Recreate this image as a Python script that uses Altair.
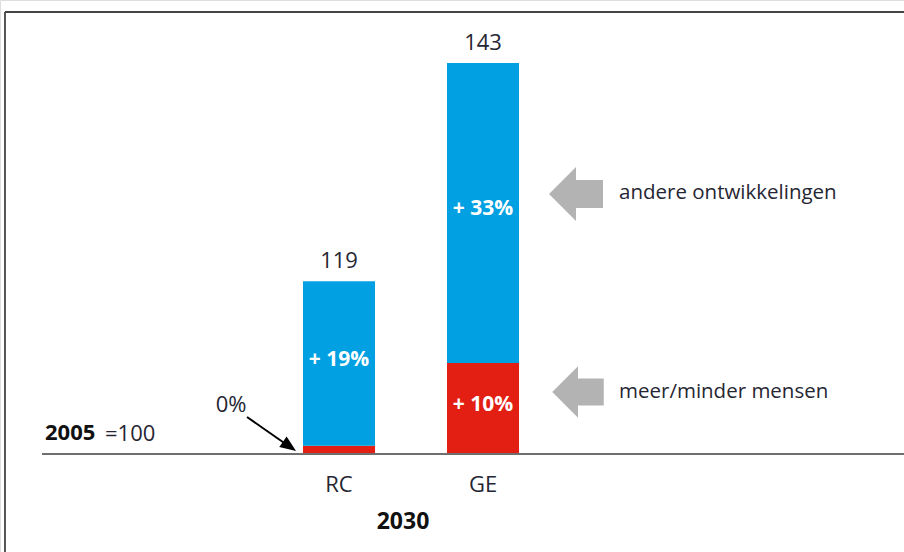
import altair as alt
import pandas as pd

# ---- data ----
categories = ["RC", "GE"]
base_value = 100
people_part = [0.9, 10]      # red: meer/minder mensen
other_part = [18.1, 33]      # blue: andere ontwikkelingen
totals = [119, 143]
people_labels = ["", "+ 10%"]
other_labels = ["+ 19%", "+ 33%"]
legend_texts = ["andere ontwikkelingen", "meer/minder mensen"]

BLUE = "#00A0E2"
RED = "#E31E12"
FONT = "Open Sans"
TXT = "#262633"

rows = []
for c, p, o, pl, ol in zip(categories, people_part, other_part, people_labels, other_labels):
    rows.append(dict(cat=c, seg="mensen", y0=base_value, y1=base_value + p,
                     mid=base_value + p / 2, lab=pl, col=RED))
    rows.append(dict(cat=c, seg="overig", y0=base_value + p, y1=base_value + p + o,
                     mid=base_value + p + o / 2, lab=ol, col=BLUE))
seg_df = pd.DataFrame(rows)
tot_df = pd.DataFrame(dict(cat=categories, total=totals))

xs = alt.Scale(type="band", domain=categories, range=[267, 555],
               paddingInner=0.5, paddingOuter=0.25)
ys = alt.Scale(domain=[89.22, 149.93], zero=False, nice=False)

X = alt.X("cat:N", scale=xs, axis=None)

bars = alt.Chart(seg_df).mark_bar().encode(
    x=X,
    y=alt.Y("y0:Q", scale=ys, axis=None),
    y2="y1:Q",
    color=alt.Color("col:N", scale=None),
)

seg_text = alt.Chart(seg_df).mark_text(
    font=FONT, fontSize=21, fontWeight="bold", color="white", baseline="middle", dy=-4
).encode(x=X, y=alt.Y("mid:Q", scale=ys), text="lab:N")

tot_text = alt.Chart(tot_df).mark_text(
    font=FONT, fontSize=22, color=TXT, baseline="middle", dy=-20
).encode(x=X, y=alt.Y("total:Q", scale=ys), text="total:Q")

cat_text = alt.Chart(tot_df).mark_text(
    font=FONT, fontSize=22, color=TXT, baseline="middle"
).encode(x=X, y=alt.value(485), text="cat:N")

baseline = alt.Chart(pd.DataFrame(dict(v=[base_value]))).mark_rule(
    color="#6e6e6e", strokeWidth=2
).encode(y=alt.Y("v:Q", scale=ys), x=alt.value(42), x2=alt.value(904))

border_top = alt.Chart().mark_rule(color="#444444", strokeWidth=1.8).encode(
    x=alt.value(5), x2=alt.value(904), y=alt.value(12))
border_left = alt.Chart().mark_rule(color="#444444", strokeWidth=1.8).encode(
    x=alt.value(5), y=alt.value(12), y2=alt.value(552))

arrow_path = "M -1 0 L 0 -1 L 0 -0.52 L 1 -0.52 L 1 0.52 L 0 0.52 L 0 1 Z"
block_arrow1 = alt.Chart().mark_point(
    shape=arrow_path, filled=True, color="#b3b3b3", opacity=1, size=2916
).encode(x=alt.value(576), y=alt.value(194))
block_arrow2 = alt.Chart().mark_point(
    shape=arrow_path, filled=True, color="#b3b3b3", opacity=1, size=2650
).encode(x=alt.value(578), y=alt.value(392))

leg1 = alt.Chart().mark_text(font=FONT, fontSize=20.5, color=TXT, align="left",
                             baseline="middle", text=legend_texts[0]).encode(
    x=alt.value(619), y=alt.value(193))
leg2 = alt.Chart().mark_text(font=FONT, fontSize=20.5, color=TXT, align="left",
                             baseline="middle", text=legend_texts[1]).encode(
    x=alt.value(619), y=alt.value(392))

t2030 = alt.Chart().mark_text(font=FONT, fontSize=23, fontWeight="bold", color="#111",
                              baseline="middle", text="2030").encode(
    x=alt.value(403), y=alt.value(522))
t2005 = alt.Chart().mark_text(font=FONT, fontSize=22, fontWeight="bold", color="#111",
                              align="left", baseline="middle", text="2005").encode(
    x=alt.value(45), y=alt.value(433))
t100 = alt.Chart().mark_text(font=FONT, fontSize=22, color=TXT,
                             align="left", baseline="middle", text="=100").encode(
    x=alt.value(105), y=alt.value(434))

t0 = alt.Chart().mark_text(font=FONT, fontSize=22, color=TXT,
                           baseline="middle", text="0%").encode(
    x=alt.value(231), y=alt.value(405))
ann_line = alt.Chart().mark_rule(color="black", strokeWidth=2).encode(
    x=alt.value(247), y=alt.value(417), x2=alt.value(290), y2=alt.value(447))
ann_head = alt.Chart().mark_point(
    shape="M 1 0 L -1 -0.8 L -1 0.8 Z", filled=True, color="black", opacity=1,
    size=256, angle=35
).encode(x=alt.value(289.5), y=alt.value(446.4))

chart = alt.layer(
    border_top, border_left, bars, baseline, seg_text, tot_text, cat_text,
    block_arrow1, block_arrow2, leg1, leg2, t2030, t2005, t100, t0, ann_line, ann_head,
).properties(
    width=904, height=552,
    autosize=alt.AutoSizeParams(type="none"),
    padding=0,
).configure_view(stroke=None).configure(background="white")

chart.save("out.html", embed_options={"renderer": "svg", "actions": False})
